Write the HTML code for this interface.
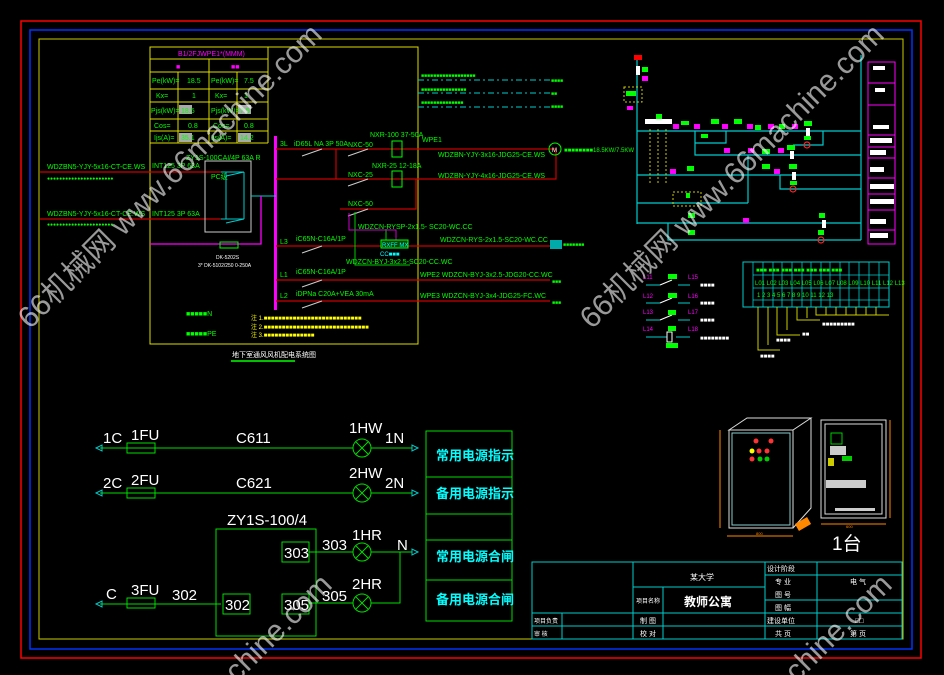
<!DOCTYPE html>
<html><head><meta charset="utf-8"><style>
html,body{margin:0;padding:0;background:#000;width:944px;height:675px;overflow:hidden}
svg{display:block}
text{font-family:"Liberation Sans","Noto Sans CJK SC",sans-serif}
.g{fill:#00ff00}.c{fill:#00ffff}.w{fill:#fff}.m{fill:#ff00ff}.y{fill:#ffff00}
</style></head><body>
<svg width="944" height="675" viewBox="0 0 944 675" xmlns="http://www.w3.org/2000/svg" overflow="hidden">
<rect width="944" height="675" fill="#000"/>
<rect x="21" y="21" width="900" height="637" fill="none" stroke="#ff0000" stroke-width="1.5"/>
<rect x="30" y="30" width="882" height="619" fill="none" stroke="#0033ff" stroke-width="1.5"/>
<rect x="39" y="39" width="864" height="600" fill="none" stroke="#cccc00" stroke-width="1"/>

<rect x="150" y="47" width="268" height="297" fill="none" stroke="#dddd00" stroke-width="1"/>
<g stroke="#dddd00" stroke-width="1" fill="none">
<path d="M150 59H268M150 72H268M150 89H268M150 102H268M150 119H268M150 131H268M150 143H268M268 47V143M209 59V143M178 72V143M237 72V143"/>
</g>
<rect x="179" y="105" width="13" height="9" fill="#aaa"/><rect x="238" y="105" width="13" height="9" fill="#aaa"/>
<rect x="179" y="133" width="13" height="9" fill="#aaa"/><rect x="238" y="133" width="13" height="9" fill="#aaa"/>
<g font-size="7">
<text x="178" y="56" class="m">B1/2FJWPE1*(MMM)</text>
<text x="176" y="69" class="m">■</text><text x="231" y="69" class="m">■■</text>
<text x="152" y="83" class="g">Pe(kW)=</text><text x="187" y="83" class="g">18.5</text><text x="211" y="83" class="g">Pe(kW)=</text><text x="244" y="83" class="g">7.5</text>
<text x="156" y="98" class="g">Kx=</text><text x="192" y="98" class="g">1</text><text x="215" y="98" class="g">Kx=</text><text x="244" y="98" class="g">1</text>
<text x="151" y="113" class="g">Pjs(kW)=</text><text x="181" y="113" class="g">18.5</text><text x="211" y="113" class="g">Pjs(kW)=</text><text x="240" y="113" class="g">7.5</text>
<text x="154" y="128" class="g">Cos=</text><text x="188" y="128" class="g">0.8</text><text x="213" y="128" class="g">Cos=</text><text x="244" y="128" class="g">0.8</text>
<text x="154" y="140" class="g">Ijs(A)=</text><text x="181" y="140" class="g">35.1</text><text x="211" y="140" class="g">Ijs(A)=</text><text x="240" y="140" class="g">14.2</text>
</g>
<rect x="274" y="136" width="3" height="174" fill="#ff00ff"/>
<g stroke="#cc0000" stroke-width="1.2" fill="none">
<path d="M40 172H221M40 219H221M276 149H555M276 179H556V149M336 149V179M336 179H361M408 179H416V209H340M276 246H560M276 280H550M276 301H550"/>
</g>
<g font-size="7" class="g">
<text x="47" y="169">WDZBN5-YJY-5x16-CT-CE.WS</text>
<text x="47" y="216">WDZBN5-YJY-5x16-CT-CE.WS</text>
<text x="47" y="180" font-size="5">●●●●●●●●●●●●●●●●●●●●●●</text>
<text x="47" y="226" font-size="5">●●●●●●●●●●●●●●●●●●●●●●</text>
<text x="152" y="168">INT125 3P 63A</text>
<text x="152" y="216">INT125 3P 63A</text>
<text x="186" y="160">ZY1S-100CAI/4P 63A R</text>
<text x="211" y="179">PC级</text>
<text x="216" y="259" class="w" font-size="5">DK-5202S</text>
<text x="198" y="267" class="w" font-size="5">3* DK-5102/250 0-250A</text>
<text x="280" y="146">3L</text><text x="294" y="146">iD65L NA 3P 50A</text>
<text x="348" y="147">NXC-50</text><text x="370" y="137">NXR-100 37-50A</text>
<text x="422" y="142">WPE1</text>
<text x="438" y="157">WDZBN-YJY-3x16-JDG25-CE.WS</text>
<text x="438" y="178">WDZBN-YJY-4x16-JDG25-CE.WS</text>
<text x="348" y="177">NXC-25</text><text x="372" y="168">NXR-25 12-18A</text>
<text x="348" y="206">NXC-50</text>
<text x="358" y="229">WDZCN-RYSP-2x1.5- SC20-WC.CC</text>
<text x="280" y="244">L3</text><text x="296" y="241">iC65N-C16A/1P</text>
<text x="440" y="242">WDZCN-RYS-2x1.5-SC20-WC.CC</text>
<text x="346" y="264">WDZCN-BYJ-3x2.5-SC20-CC.WC</text>
<text x="280" y="277">L1</text><text x="296" y="274">iC65N-C16A/1P</text>
<text x="420" y="277">WPE2 WDZCN-BYJ-3x2.5-JDG20-CC.WC</text>
<text x="280" y="298">L2</text><text x="296" y="296">iDPNa C20A+VEA 30mA</text>
<text x="420" y="298">WPE3 WDZCN-BYJ-3x4-JDG25-FC.WC</text>
<text x="186" y="316">■■■■■N</text><text x="186" y="336">■■■■■PE</text>
</g>
<g font-size="6" class="y">
<text x="251" y="320">注 1.■■■■■■■■■■■■■■■■■■■■■■■■■■■</text>
<text x="251" y="329">注 2.■■■■■■■■■■■■■■■■■■■■■■■■■■■■■</text>
<text x="251" y="337">注 3.■■■■■■■■■■■■■■</text>
</g>
<text x="232" y="357" font-size="7" class="w">地下室通风风机配电系统图</text>
<path d="M231 361H295" stroke="#00ff00" stroke-width="1.5"/>
<rect x="205" y="161" width="46" height="71" fill="none" stroke="#ccc"/>
<path d="M221 172H244M221 219H244M226 176L244 172M226 223L244 219M226 172V219M244 172V219M251 196H276" stroke="#00cccc" stroke-width="1" fill="none"/>
<path d="M261 196V244H150" stroke="#ff00ff" stroke-width="1.3" fill="none"/>
<rect x="220" y="242" width="18" height="6" fill="none" stroke="#00ff00"/>
<g stroke="#ccc" stroke-width="1" fill="none">
<path d="M302 156L322 149M348 156L368 149M348 186L368 179M348 216L368 209M302 253L322 246M302 287L322 280M302 308L322 301"/>
</g>
<rect x="392" y="141" width="10" height="16" fill="none" stroke="#00ff00"/>
<rect x="392" y="171" width="10" height="16" fill="none" stroke="#00ff00"/>
<circle cx="555" cy="149" r="6" fill="none" stroke="#00ff00"/>
<text x="552" y="152" font-size="6" class="w">M</text>
<text x="564" y="152" font-size="6" class="g">■■■■■■■■18.5KW/7.5KW</text>
<path d="M355 212V265H410M386 229V246" stroke="#00cc00" fill="none"/>
<path d="M349 213V230H396V240" stroke="#cc00cc" fill="none"/>
<rect x="381" y="240" width="27" height="8" fill="#004400" stroke="#00ff00"/>
<text x="382" y="247" font-size="6" class="c">RXFF MX</text>
<text x="380" y="256" font-size="6" class="c">CC■■■</text>
<rect x="550" y="240" width="12" height="9" fill="#00aaaa"/>
<text x="563" y="246" font-size="5" class="g">■■■■■■■</text>
<text x="552" y="283" font-size="5" class="g">■■■</text>
<text x="552" y="304" font-size="5" class="g">■■■</text>
<g stroke="#00cccc" stroke-dasharray="6,3,2,3" fill="none">
<path d="M418 80H550M418 93H550M418 107H550"/>
</g>
<g font-size="5" class="g">
<text x="421" y="77">■■■■■■■■■■■■■■■■■■</text><text x="551" y="82">■■■■</text>
<text x="421" y="91">■■■■■■■■■■■■■■■</text><text x="551" y="95">■■</text>
<text x="421" y="104">■■■■■■■■■■■■■■</text><text x="551" y="108">■■■■</text>
</g>

<g stroke="#00cccc" stroke-width="1.2" fill="none">
<path d="M637 58V224M861 55V240M637 131H861M637 175H861M637 203H748M637 223H861M668 223V240H861M695 131V155H861M748 155V203M726 131V143H695M780 175V189H861M823 131V145H793"/>
</g>
<rect x="634" y="55" width="8" height="5" fill="#ff0000"/>
<rect x="636" y="66" width="4" height="9" fill="#fff"/>
<rect x="642" y="67" width="6" height="5" fill="#00ff00"/><rect x="642" y="76" width="6" height="5" fill="#ff00ff"/>
<rect x="624" y="87" width="18" height="15" fill="none" stroke="#cccc00" stroke-dasharray="2,2"/>
<rect x="626" y="91" width="10" height="5" fill="#00ff00"/><rect x="627" y="106" width="6" height="4" fill="#ff00ff"/>
<rect x="645" y="119" width="27" height="5" fill="#fff"/>
<rect x="656" y="114" width="6" height="5" fill="#00ff00"/>
<g fill="#00ff00">
<rect x="681" y="121" width="8" height="4"/><rect x="711" y="119" width="8" height="5"/><rect x="734" y="119" width="8" height="5"/><rect x="755" y="125" width="6" height="5"/><rect x="779" y="124" width="6" height="5"/><rect x="804" y="121" width="8" height="5"/>
<rect x="701" y="134" width="7" height="4"/><rect x="762" y="149" width="8" height="5"/><rect x="787" y="145" width="8" height="5"/><rect x="804" y="136" width="7" height="4"/>
<rect x="687" y="166" width="7" height="5"/><rect x="762" y="164" width="8" height="5"/><rect x="789" y="164" width="8" height="5"/><rect x="790" y="181" width="7" height="4"/>
<rect x="686" y="193" width="4" height="5"/><rect x="688" y="213" width="7" height="5"/><rect x="688" y="230" width="7" height="5"/>
<rect x="819" y="213" width="6" height="5"/><rect x="818" y="230" width="6" height="5"/>
</g>
<g fill="#ff00ff">
<rect x="673" y="124" width="6" height="5"/><rect x="694" y="124" width="6" height="5"/><rect x="722" y="124" width="6" height="5"/><rect x="747" y="124" width="6" height="5"/><rect x="768" y="124" width="6" height="5"/><rect x="792" y="124" width="6" height="5"/>
<rect x="724" y="148" width="6" height="5"/><rect x="748" y="148" width="6" height="5"/><rect x="778" y="148" width="6" height="5"/>
<rect x="670" y="169" width="6" height="5"/><rect x="774" y="169" width="6" height="5"/><rect x="743" y="218" width="6" height="5"/>
</g>
<g stroke="#cccc00" stroke-dasharray="2,2" fill="none"><path d="M650 129V184M658 129V184M666 129V184"/></g>
<rect x="673" y="192" width="28" height="14" fill="none" stroke="#cccc00" stroke-dasharray="2,2"/>
<g fill="none" stroke="#ff2222" stroke-width="1.2"><circle cx="807" cy="145" r="3"/><circle cx="793" cy="189" r="3"/><circle cx="821" cy="240" r="3"/></g>
<g fill="#fff"><rect x="806" y="128" width="4" height="8"/><rect x="790" y="151" width="4" height="8"/><rect x="792" y="172" width="4" height="8"/><rect x="822" y="220" width="4" height="8"/></g>
<rect x="868" y="62" width="27" height="182" fill="none" stroke="#ff00ff" stroke-width="1"/>
<g stroke="#ff00ff" fill="none"><path d="M868 83H895M868 105H895M868 135H895M868 147H895M868 158H895M868 178H895M868 194H895M868 210H895M868 230H895"/></g>
<g fill="#fff"><rect x="873" y="66" width="12" height="4"/><rect x="875" y="88" width="10" height="4"/><rect x="873" y="125" width="16" height="4"/><rect x="870" y="138" width="22" height="5"/><rect x="870" y="150" width="16" height="5"/><rect x="870" y="167" width="14" height="5"/><rect x="870" y="184" width="24" height="5"/><rect x="870" y="199" width="24" height="5"/><rect x="870" y="219" width="16" height="5"/><rect x="870" y="233" width="18" height="5"/></g>

<rect x="743" y="262" width="146" height="45" fill="none" stroke="#00cccc"/>
<g stroke="#00cccc" fill="none" stroke-width="0.8">
<path d="M753 262V307M763 262V307M773 262V307M782 262V307M792 262V307M802 262V307M811 262V307M821 262V307M830 262V307M840 262V307M849 262V307M859 262V307M869 262V307M879 262V307M753 275H889M753 288H889M753 300H889"/>
</g>
<g font-size="6" class="g">
<text x="756" y="272">■■■ ■■■ ■■■ ■■■ ■■■ ■■■ ■■■</text>
<text x="755" y="285">L01 L02 L03 L04 L05 L06 L07 L08 L09 L10 L11 L12 L13</text>
<text x="757" y="297">1  2  3  4  5  6  7  8  9  10 11 12 13</text>
</g>
<g stroke="#cccc00" fill="none">
<path d="M758 307V350H780M768 307V345M777 307V335H800M787 307V330M797 307V320H820M807 307V318M816 307V315H889M826 307V315M836 307V315M846 307V315M856 307V315M866 307V315M876 307V315"/>
</g>
<g font-size="6" class="w"><text x="760" y="358">■■■■</text><text x="776" y="342">■■■■</text><text x="802" y="336">■■</text><text x="822" y="326">■■■■■■■■■</text></g>
<g stroke="#00cccc" fill="none"><path d="M646 285H660M678 285H690M646 303H660M678 303H690M646 320H660M678 320H690M646 337H667M676 337H690"/></g>
<g stroke="#fff" fill="none"><path d="M660 285L672 280M660 303L672 298M660 320L672 315"/><rect x="667" y="332" width="5" height="10"/></g>
<g font-size="6"><text x="643" y="279" class="m">L11</text><text x="643" y="298" class="m">L12</text><text x="643" y="314" class="m">L13</text><text x="643" y="331" class="m">L14</text>
<text x="688" y="279" class="m">L15</text><text x="688" y="298" class="m">L16</text><text x="688" y="314" class="m">L17</text><text x="688" y="331" class="m">L18</text>
<text x="700" y="287" class="w">■■■■</text><text x="700" y="305" class="w">■■■■</text><text x="700" y="322" class="w">■■■■</text><text x="700" y="340" class="w">■■■■■■■■</text></g>
<g fill="#00ff00"><rect x="668" y="274" width="9" height="5"/><rect x="668" y="293" width="9" height="5"/><rect x="668" y="310" width="8" height="5"/><rect x="668" y="326" width="8" height="5"/><rect x="666" y="343" width="12" height="5"/></g>

<g stroke="#ddd" fill="none" stroke-width="1">
<path d="M729 430L747 418H811L793 430Z M793 430V528 M811 418V508L793 528"/>
<rect x="729" y="430" width="64" height="98"/>
<rect x="821" y="420" width="65" height="98"/>
<rect x="825" y="424" width="57" height="90"/>
</g>
<rect x="732" y="433" width="58" height="92" fill="none" stroke="#88cccc"/>
<g stroke="#ff8800" fill="none"><path d="M720 430V528M727 536H793M890 420V518M821 524H886"/></g>
<rect x="796" y="520" width="14" height="8" fill="#ff8800" transform="rotate(-30 803 524)"/>
<g fill="#ff3333"><circle cx="756" cy="441" r="2.5"/><circle cx="771" cy="441" r="2.5"/><circle cx="759" cy="451" r="2.5"/><circle cx="767" cy="451" r="2.5"/><circle cx="752" cy="459" r="2.5"/></g>
<g fill="#ffff00"><circle cx="752" cy="451" r="2.5"/></g>
<g fill="#00cc00"><circle cx="760" cy="459" r="2.5"/><circle cx="767" cy="459" r="2.5"/><rect x="831" y="433" width="11" height="11" fill="none" stroke="#00cc00"/><rect x="842" y="456" width="10" height="5"/></g>
<rect x="845" y="480" width="10" height="6" fill="#cc3333"/><rect x="828" y="458" width="6" height="8" fill="#cccc00"/>
<g fill="#ccc"><rect x="826" y="480" width="40" height="8"/><rect x="835" y="508" width="40" height="3"/><rect x="830" y="446" width="16" height="9"/></g>
<text x="832" y="550" font-size="19" class="w" font-family="Liberation Serif,Noto Serif CJK SC,serif">1台</text>
<text x="756" y="535" font-size="4" fill="#ff8800">800</text><text x="846" y="528" font-size="4" fill="#ff8800">600</text>

<g stroke="#00dd00" stroke-width="1" fill="none">
<path d="M100 448H353M371 448H412M100 493H353M371 493H412M100 604H221M309 552H353M371 552H412M309 603H353M371 603H400V552"/>
<rect x="127" y="443" width="28" height="10"/><rect x="127" y="488" width="28" height="10"/><rect x="127" y="598" width="28" height="10"/>
<circle cx="362" cy="448" r="9"/><circle cx="362" cy="493" r="9"/><circle cx="362" cy="552" r="9"/><circle cx="362" cy="603" r="9"/>
<path d="M356 442L368 454M368 442L356 454M356 487L368 499M368 487L356 499M356 546L368 558M368 546L356 558M356 597L368 609M368 597L356 609"/>
<rect x="216" y="529" width="100" height="107"/>
<rect x="223" y="594" width="27" height="20"/><rect x="282" y="542" width="27" height="20"/><rect x="282" y="594" width="27" height="20"/>
<rect x="426" y="431" width="86" height="190"/>
<path d="M426 477H512M426 514H512M426 540H512M426 580H512"/>
</g>
<g stroke="#00cccc" fill="none"><path d="M96 448L102 445V451Z M96 493L102 490V496Z M96 604L102 601V607Z M418 448L412 445V451Z M418 493L412 490V496Z M418 552L412 549V555Z"/></g>
<g font-size="15" class="w">
<text x="103" y="443">1C</text><text x="131" y="440">1FU</text><text x="236" y="443">C611</text><text x="349" y="433">1HW</text><text x="385" y="443">1N</text>
<text x="103" y="488">2C</text><text x="131" y="485">2FU</text><text x="236" y="488">C621</text><text x="349" y="478">2HW</text><text x="385" y="488">2N</text>
<text x="227" y="525">ZY1S-100/4</text>
<text x="284" y="558">303</text><text x="322" y="550">303</text><text x="352" y="540">1HR</text><text x="397" y="550">N</text>
<text x="106" y="599">C</text><text x="131" y="595">3FU</text><text x="172" y="600">302</text>
<text x="225" y="610">302</text><text x="284" y="610">305</text><text x="322" y="601">305</text><text x="352" y="589">2HR</text>
</g>
<g font-size="13" class="c" font-weight="bold">
<text x="436" y="460">常用电源指示</text><text x="436" y="498">备用电源指示</text><text x="436" y="561">常用电源合闸</text><text x="436" y="604">备用电源合闸</text>
</g>

<g stroke="#00cccc" fill="none" stroke-width="1">
<rect x="532" y="562" width="370" height="77"/>
<path d="M633 562V639M663 587V639M765 562V639M817 562V639M562 613V639M633 587H765M765 575H902M765 600H902M532 613H902M532 626H902"/>
</g>
<g font-size="8" class="w">
<text x="690" y="580">某大学</text><text x="684" y="606" font-size="12" font-weight="bold">教师公寓</text>
<text x="636" y="603" font-size="6">项目名称</text>
<text x="767" y="571" font-size="7">设计阶段</text><text x="775" y="584" font-size="7">专  业</text><text x="850" y="584" font-size="7">电 气</text>
<text x="775" y="597" font-size="7">图  号</text><text x="775" y="610" font-size="7">图  幅</text>
<text x="767" y="623" font-size="7">建设单位</text><text x="855" y="623" font-size="7">□□</text>
<text x="775" y="636" font-size="7">共  页</text><text x="850" y="636" font-size="7">第  页</text>
<text x="534" y="623" font-size="6">项目负责</text><text x="534" y="636" font-size="6">审  核</text>
<text x="640" y="623" font-size="7">制  图</text><text x="640" y="636" font-size="7">校  对</text>
</g>

<g font-size="30" fill="#ffffff" fill-opacity="0.6">
<text transform="translate(30,330) rotate(-45)">66机械网 www.66machine.com</text>
<text transform="translate(592,330) rotate(-45)">66机械网 www.66machine.com</text>
<text transform="translate(40,880) rotate(-45)">66机械网 www.66machine.com</text>
<text transform="translate(600,880) rotate(-45)">66机械网 www.66machine.com</text>
</g>
</svg>
</body></html>
